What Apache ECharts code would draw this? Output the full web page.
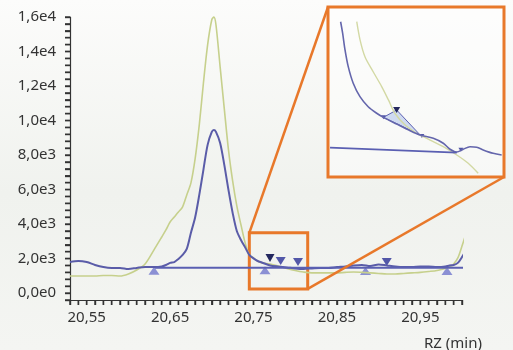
<!doctype html>
<html>
<head>
    <meta charset="utf-8">
    <title>RZ chromatogram</title>
    <script src="https://cdn.jsdelivr.net/npm/echarts@6/dist/echarts.min.js"></script>
</head>
<body style="margin:0;padding:0">
    <div id="main" style="width:513px;height:350px"></div>
    <script>
        // retention time (min) shared by both traces
        var times = [20.53, 20.54, 20.55, 20.56, 20.57, 20.58, 20.59, 20.60, 20.61, 20.62, 20.63, 20.64, 20.645,
            20.65, 20.655, 20.66, 20.665, 20.67, 20.675, 20.68, 20.685, 20.69, 20.695, 20.70, 20.7025, 20.705,
            20.71, 20.715, 20.72, 20.725, 20.73, 20.735, 20.74, 20.745, 20.75, 20.755, 20.76, 20.77, 20.78,
            20.79, 20.80, 20.81, 20.82, 20.83, 20.84, 20.85, 20.86, 20.87, 20.88, 20.89, 20.90, 20.91, 20.92,
            20.93, 20.94, 20.95, 20.96, 20.97, 20.98, 20.985, 20.99, 20.995, 21.00, 21.005];
        var blueTrace = [1800, 1860, 1800, 1630, 1510, 1460, 1460, 1400, 1460, 1510, 1510, 1540, 1630,
            1750, 1800, 1980, 2210, 2560, 3500, 4380, 5690, 7160, 8590, 9340, 9450, 9340,
            8700, 7430, 5980, 4650, 3600, 3080, 2650, 2210, 2010, 1860, 1775, 1600, 1540,
            1490, 1430, 1400, 1430, 1460, 1460, 1510, 1540, 1600, 1630, 1570, 1660, 1600, 1540,
            1510, 1510, 1540, 1540, 1510, 1540, 1600, 1630, 1750, 2090, 2500];
        var greenTrace = [990, 990, 990, 990, 1020, 1020, 990, 1110, 1340, 1690, 2450, 3250, 3660,
            4120, 4410, 4700, 5000, 5690, 6390, 7780, 9750, 12190, 14390, 15840, 16000, 15550,
            13110, 10680, 8300, 6500, 5050, 3950, 2910, 2210, 2040, 1860, 1750, 1690, 1570,
            1430, 1310, 1220, 1170, 1170, 1170, 1170, 1200, 1220, 1200, 1170, 1140, 1110, 1110,
            1140, 1170, 1200, 1250, 1310, 1430, 1510, 1690, 2040, 2730, 3490];

        // integration baseline and peak markers
        var baseline = [[20.632, 1470], [21.005, 1470]];
        var startMarks = [[20.6307, 1300], [20.7638, 1330], [20.8843, 1280], [20.982, 1280]];
        var apexMarks = [[20.7826, 1860], [20.8034, 1800], [20.9098, 1800]];
        var apexMain = [[20.7698, 2040]];

        // zoomed region [tMin, tMax, iMin, iMax]
        var zoomBox = [20.745, 20.815, 240, 3490];

        // inset traces (magnified view)
        var insetBlue = [[20.7593, 2296], [20.7600, 2214], [20.7608, 2097], [20.7619, 1979], [20.7636, 1862],
            [20.7659, 1767], [20.7687, 1696], [20.7716, 1650], [20.7739, 1621], [20.7784, 1574], [20.7830, 1527],
            [20.7864, 1497], [20.7909, 1473], [20.7943, 1438], [20.7966, 1396], [20.7989, 1376], [20.8011, 1396],
            [20.8034, 1414], [20.8057, 1410], [20.8079, 1391], [20.8113, 1367], [20.8142, 1355]];
        var insetGreen = [[20.7648, 2296], [20.7659, 2170], [20.7676, 2049], [20.7704, 1943], [20.7733, 1838],
            [20.7756, 1744], [20.7778, 1650], [20.7813, 1567], [20.7852, 1509], [20.7898, 1461], [20.7943, 1414],
            [20.7989, 1355], [20.8028, 1297], [20.8062, 1226]];
        var insetBaseline = [[20.7557, 1407], [20.7989, 1372]];
        var insetShade = [[20.7739, 1621], [20.7784, 1673], [20.7864, 1497]];
        var insetApex = [[20.7784, 1673]];
        var insetSmallMarks = [[20.7739, 1621], [20.7870, 1490], [20.8003, 1393]];

        // tick labels
        var xTickValues = [20.55, 20.65, 20.75, 20.85, 20.95];
        var xTickLabels = ['20,55', '20,65', '20,75', '20,85', '20,95'];
        var yTickValues = [0, 2000, 4000, 6000, 8000, 10000, 12000, 14000, 16000];
        var yTickLabels = ['0,0e0', '2,0e3', '4,0e3', '6,0e3', '8,0e3', '1,0e4', '1,2e4', '1,4e4', '1,6e4'];

        var xMin = 20.53, xMax = 21.00, yMin = -400, yMax = 16000;
        // tick marks: every 0.01 min on x, every 400 on y
        var xTicks = [];
        for (var k = 0; k <= 47; k++) xTicks.push(Math.round((xMin + k * 0.01) * 1000) / 1000);
        var yTicks = [];
        for (var j = 0; j <= 41; j++) yTicks.push(yMin + j * 400);

        var inset = { left: 328, top: 7, width: 176, height: 170 };
        var orange = '#e8782a';
        var axisColor = '#333';

        function pickLabel(v, vals, labels) {
            for (var i = 0; i < vals.length; i++) {
                if (Math.abs(v - vals[i]) < 1e-6) return labels[i];
            }
            return '';
        }
        function pairs(xs, ys) {
            return xs.map(function (x, i) { return [x, ys[i]]; });
        }
        // short tick drawn at a data point, offset in px
        function tickRenderer(dx, dy) {
            return function (params, api) {
                var p = api.coord([api.value(0), api.value(1)]);
                return {
                    type: 'line',
                    shape: { x1: p[0], y1: p[1], x2: p[0] + dx, y2: p[1] + dy },
                    style: { stroke: axisColor, lineWidth: 1.4 }
                };
            };
        }

        var chart = echarts.init(document.getElementById('main'));
        var font = 'Noto Sans';
        chart.setOption({
            animation: false,
            backgroundColor: {
                type: 'linear', x: 0, y: 0, x2: 0, y2: 1,
                colorStops: [
                    { offset: 0, color: '#fcfcfb' },
                    { offset: 0.55, color: '#f0f2ee' },
                    { offset: 1, color: '#f4f5f2' }
                ]
            },
            title: {
                text: 'RZ (min)',
                right: 26,
                top: 331,
                textStyle: { fontFamily: font, fontSize: 15, fontWeight: 'normal', color: '#333' }
            },
            grid: [
                { left: 70, right: 51, top: 17, bottom: 50 },
                {
                    left: inset.left, top: inset.top, width: inset.width, height: inset.height,
                    show: true, borderColor: orange, borderWidth: 3,
                    backgroundColor: 'rgba(255,255,255,0.45)'
                }
            ],
            xAxis: [{
                type: 'value',
                min: xMin,
                max: xMax,
                interval: 0.01,
                axisLine: { show: true, onZero: false, lineStyle: { color: axisColor, width: 1.2 } },
                axisTick: { show: true, length: 5, lineStyle: { color: axisColor, width: 1.4 } },
                splitLine: { show: false },
                axisLabel: {
                    margin: 10,
                    fontFamily: font,
                    fontSize: 15,
                    color: '#333',
                    customValues: xTickValues,
                    formatter: function (v) { return pickLabel(v, xTickValues, xTickLabels); }
                }
            }, {
                type: 'value', gridIndex: 1, min: 20.755, max: 20.815, show: false
            }],
            yAxis: [{
                type: 'value',
                min: yMin,
                max: yMax,
                interval: 400,
                axisLine: { show: true, onZero: false, lineStyle: { color: axisColor, width: 1.2 } },
                axisTick: { show: true, length: 5, lineStyle: { color: axisColor, width: 1.4 } },
                splitLine: { show: false },
                axisLabel: {
                    margin: 14,
                    fontFamily: font,
                    fontSize: 15,
                    color: '#333',
                    customValues: yTickValues,
                    formatter: function (v) { return pickLabel(v, yTickValues, yTickLabels); }
                }
            }, {
                type: 'value', gridIndex: 1, min: 1200, max: 2400, show: false
            }],
            series: [{
                name: 'xTicks',
                type: 'custom',
                silent: true,
                clip: false,
                data: xTicks.map(function (t) { return [t, yMin]; }),
                renderItem: tickRenderer(0, 5)
            }, {
                name: 'yTicks',
                type: 'custom',
                silent: true,
                clip: false,
                data: yTicks.map(function (v) { return [xMin, v]; }),
                renderItem: tickRenderer(-5, 0)
            }, {
                name: 'green',
                type: 'line',
                data: pairs(times, greenTrace),
                smooth: 0.3,
                clip: false,
                symbol: 'none',
                lineStyle: { color: '#c6d08c', width: 1.6 }
            }, {
                name: 'blue',
                type: 'line',
                data: pairs(times, blueTrace),
                smooth: 0.3,
                clip: false,
                symbol: 'none',
                lineStyle: { color: '#5a5ca8', width: 2 }
            }, {
                name: 'baseline',
                type: 'line',
                data: baseline,
                clip: false,
                symbol: 'none',
                lineStyle: { color: '#5a5fb2', width: 2 },
                markArea: {
                    silent: true,
                    itemStyle: { color: 'rgba(0,0,0,0)', borderColor: orange, borderWidth: 3 },
                    data: [[{ coord: [zoomBox[0], zoomBox[3]] }, { coord: [zoomBox[1], zoomBox[2]] }]]
                }
            }, {
                name: 'start',
                type: 'scatter',
                data: startMarks,
                symbol: 'triangle',
                symbolSize: [11, 8],
                itemStyle: { color: '#8b90d4', opacity: 1 }
            }, {
                name: 'apex',
                type: 'scatter',
                data: apexMarks,
                symbol: 'triangle',
                symbolRotate: 180,
                symbolSize: [10, 8],
                itemStyle: { color: '#5257a8', opacity: 1 }
            }, {
                name: 'apexMain',
                type: 'scatter',
                data: apexMain,
                symbol: 'triangle',
                symbolRotate: 180,
                symbolSize: [9, 8],
                itemStyle: { color: '#23275e', opacity: 1 }
            },
            // inset
            {
                type: 'custom',
                xAxisIndex: 1,
                yAxisIndex: 1,
                data: insetShade,
                renderItem: function (params, api) {
                    if (params.dataIndex !== 0) return;
                    var pts = insetShade.map(function (p) { return api.coord(p); });
                    return {
                        type: 'polygon',
                        shape: { points: pts },
                        style: { fill: '#cfdaf0', stroke: '#5a5fb2', lineWidth: 1 }
                    };
                }
            }, {
                type: 'line',
                xAxisIndex: 1,
                yAxisIndex: 1,
                data: insetGreen,
                smooth: 0.3,
                symbol: 'none',
                lineStyle: { color: '#d3d9a4', width: 1.4 }
            }, {
                type: 'line',
                xAxisIndex: 1,
                yAxisIndex: 1,
                data: insetBlue,
                smooth: 0.3,
                symbol: 'none',
                lineStyle: { color: '#6466ac', width: 1.6 }
            }, {
                type: 'line',
                xAxisIndex: 1,
                yAxisIndex: 1,
                data: insetBaseline,
                symbol: 'none',
                lineStyle: { color: '#5a5fb2', width: 1.8 }
            }, {
                type: 'scatter',
                xAxisIndex: 1,
                yAxisIndex: 1,
                data: insetApex,
                symbol: 'triangle',
                symbolRotate: 180,
                symbolSize: [7, 6],
                itemStyle: { color: '#23275e', opacity: 1 }
            }, {
                type: 'scatter',
                xAxisIndex: 1,
                yAxisIndex: 1,
                data: insetSmallMarks,
                symbol: 'triangle',
                symbolRotate: 180,
                symbolSize: [5, 4],
                itemStyle: { color: '#5257a8', opacity: 1 }
            }]
        });

        // connector lines from the zoom box to the inset
        var tl = chart.convertToPixel({ gridIndex: 0 }, [zoomBox[0], zoomBox[3]]);
        var br = chart.convertToPixel({ gridIndex: 0 }, [zoomBox[1], zoomBox[2]]);
        chart.setOption({
            graphic: [{
                type: 'line',
                shape: { x1: tl[0], y1: tl[1], x2: inset.left, y2: inset.top },
                style: { stroke: orange, lineWidth: 2.5 },
                z: 10
            }, {
                type: 'line',
                shape: { x1: br[0], y1: br[1], x2: inset.left + inset.width, y2: inset.top + inset.height },
                style: { stroke: orange, lineWidth: 2.5 },
                z: 10
            }]
        });
    </script>
</body>
</html>
